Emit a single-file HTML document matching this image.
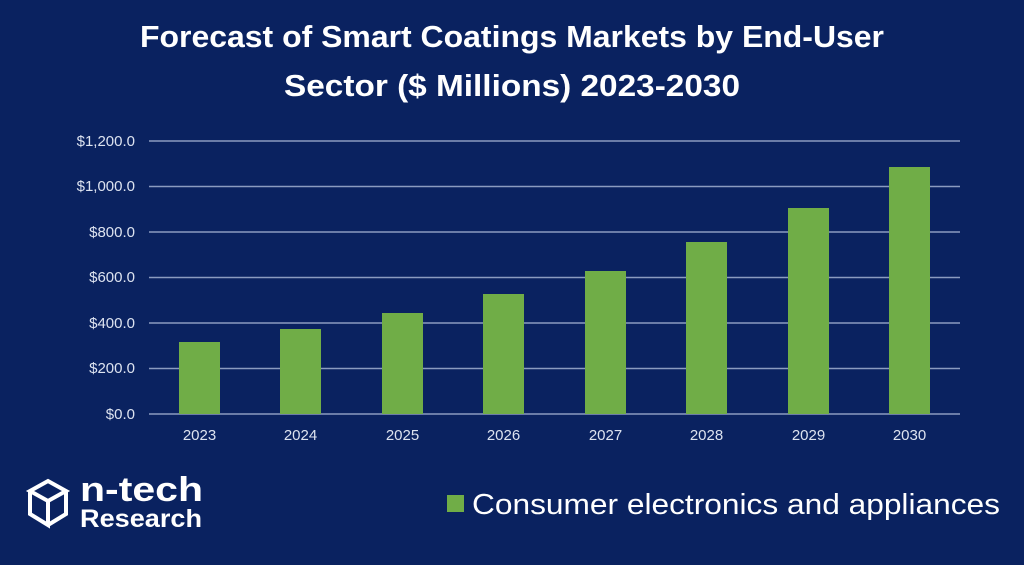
<!DOCTYPE html>
<html><head><meta charset="utf-8"><style>
body{margin:0;width:1024px;height:560px;background:#0a2260;overflow:hidden;font-family:"Liberation Sans",sans-serif}
</style></head><body>
<svg width="1024" height="560" xmlns="http://www.w3.org/2000/svg">
<rect width="1024" height="560" fill="#0a2260"/>
<g font-family="Liberation Sans, sans-serif" font-weight="bold" fill="#fff" font-size="31" text-anchor="middle">
<text x="512" y="47" textLength="744" lengthAdjust="spacingAndGlyphs">Forecast of Smart Coatings Markets by End-User</text>
<text x="512" y="96" textLength="456" lengthAdjust="spacingAndGlyphs">Sector ($ Millions) 2023-2030</text>
</g>
<g stroke="#8b9bc0" stroke-width="1.5">
<line x1="149" x2="960" y1="141" y2="141"/>
<line x1="149" x2="960" y1="186.5" y2="186.5"/>
<line x1="149" x2="960" y1="232" y2="232"/>
<line x1="149" x2="960" y1="277.5" y2="277.5"/>
<line x1="149" x2="960" y1="323" y2="323"/>
<line x1="149" x2="960" y1="368.5" y2="368.5"/>
<line x1="149" x2="960" y1="414" y2="414"/>
</g>
<g font-size="15" fill="#dde3f0" text-anchor="end">
<text x="135" y="146">$1,200.0</text>
<text x="135" y="191">$1,000.0</text>
<text x="135" y="237">$800.0</text>
<text x="135" y="282">$600.0</text>
<text x="135" y="328">$400.0</text>
<text x="135" y="373">$200.0</text>
<text x="135" y="419">$0.0</text>
</g>
<g fill="#70ad47">
<rect x="179" y="342" width="41" height="72"/>
<rect x="280" y="329" width="41" height="85"/>
<rect x="382" y="313" width="41" height="101"/>
<rect x="483" y="294" width="41" height="120"/>
<rect x="585" y="271" width="41" height="143"/>
<rect x="686" y="242" width="41" height="172"/>
<rect x="788" y="208" width="41" height="206"/>
<rect x="889" y="167" width="41" height="247"/>
</g>
<g font-size="15" fill="#dde3f0" text-anchor="middle">
<text x="199.5" y="440">2023</text><text x="300.5" y="440">2024</text>
<text x="402.5" y="440">2025</text><text x="503.5" y="440">2026</text>
<text x="605.5" y="440">2027</text><text x="706.5" y="440">2028</text>
<text x="808.5" y="440">2029</text><text x="909.5" y="440">2030</text>
</g>
<rect x="447" y="495" width="17" height="17" fill="#70ad47"/>
<text x="472" y="514" font-size="29" fill="#fff" textLength="528" lengthAdjust="spacingAndGlyphs">Consumer electronics and appliances</text>
<g fill="none" stroke="#fff" stroke-width="4">
<path d="M30 491 L48 481 L66 491 L48 501 Z"/>
<path d="M30 491 V514 L48 525 V501"/>
<path d="M66 491 V514 L48 525"/>
</g>
<g font-weight="bold" fill="#fff">
<text x="80" y="501" font-size="34" textLength="123" lengthAdjust="spacingAndGlyphs">n-tech</text>
<text x="80" y="527" font-size="25" textLength="122" lengthAdjust="spacingAndGlyphs">Research</text>
</g>
</svg>
</body></html>
